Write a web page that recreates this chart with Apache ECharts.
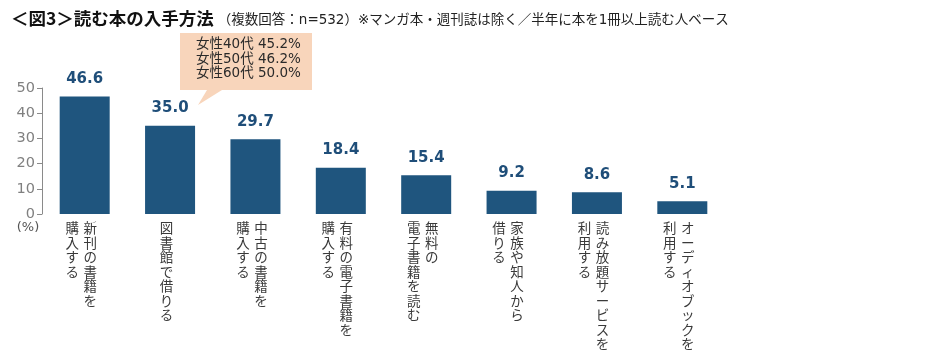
<!DOCTYPE html>
<html><head><meta charset="utf-8">
<script src="https://cdn.jsdelivr.net/npm/echarts@6/dist/echarts.min.js"></script>
<style>html,body{margin:0;padding:0;background:#fff}#c{width:934px;height:360px}</style>
</head><body><div id="c"></div>
<script>
// Categories: right column \n left column (vertical Japanese writing)
const categories = [
  '新刊の書籍を\n購入する',
  '図書館で借りる',
  '中古の書籍を\n購入する',
  '有料の電子書籍を\n購入する',
  '無料の\n電子書籍を読む',
  '家族や知人から\n借りる',
  '読み放題サービスを\n利用する',
  'オーディオブックを\n利用する'
];
const values = [46.6, 35.0, 29.7, 18.4, 15.4, 9.2, 8.6, 5.1];
const yTicks = [0, 10, 20, 30, 40, 50];
const titleMain = '＜図3＞読む本の入手方法';
const titleSub = '（複数回答：n=532）※マンガ本・週刊誌は除く／半年に本を1冊以上読む人ベース';
const calloutLines = ['女性40代 45.2%', '女性50代 46.2%', '女性60代 50.0%'];

function vertical(s) {
  const cols = s.split('\n').map(c => Array.from(c));
  const n = Math.max(...cols.map(c => c.length));
  const lines = [];
  for (let i = 0; i < n; i++) {
    const right = cols[0][i] || '　';
    if (cols.length > 1) {
      const left = cols[1][i] || '　';
      lines.push('{c|' + left + '}{c|' + right + '}{p| }');
    } else {
      lines.push('{c|' + right + '}{p| }');
    }
  }
  return lines.join('\n');
}

const chart = echarts.init(document.getElementById('c'), null, {renderer: 'canvas'});
const option = {
  animation: false,
  backgroundColor: '#fff',
  title: {
    text: '{m|' + titleMain + '}{s|' + titleSub + '}',
    left: 6, top: 5,
    textStyle: {
      rich: {
        m: {fontSize: 17.5, fontWeight: 'bold', color: '#111', fontFamily: '"Noto Sans CJK JP", sans-serif', padding: [0, 4, 0, 0]},
        s: {fontSize: 13.5, fontWeight: 'normal', color: '#222', fontFamily: '"DejaVu Sans", "Noto Sans CJK JP", sans-serif', padding: [3, 0, 0, 0]}
      }
    }
  },
  grid: {left: 42, right: 209, top: 88, bottom: 146, containLabel: false},
  xAxis: {
    type: 'category',
    data: categories,
    axisLine: {show: false},
    axisTick: {show: false},
    axisLabel: {
      interval: 0, margin: 7,
      formatter: v => vertical(v),
      rich: {
        c: {width: 18, align: 'center', fontSize: 13.5, lineHeight: 14.5, color: '#3a3a3a', fontFamily: '"Noto Sans CJK JP", sans-serif'},
        p: {width: 7, fontSize: 13, lineHeight: 14.5}
      }
    }
  },
  yAxis: {
    type: 'value', min: yTicks[0], max: yTicks[yTicks.length - 1], interval: 10,
    name: '(%)', nameLocation: 'start', nameGap: 4,
    nameTextStyle: {color: '#555', fontSize: 13, fontFamily: '"DejaVu Sans", sans-serif', align: 'center', verticalAlign: 'top', padding: [0, 28, 0, 0]},
    axisLine: {show: true, lineStyle: {color: '#8a8a8a', width: 1}},
    axisTick: {show: true, length: 5, lineStyle: {color: '#8a8a8a'}},
    splitLine: {show: false},
    axisLabel: {color: '#808080', fontSize: 14.5, margin: 7, fontFamily: '"DejaVu Sans", sans-serif'}
  },
  series: [{
    type: 'bar',
    data: values,
    barWidth: 50,
    itemStyle: {color: '#1F557E'},
    label: {
      show: true, position: 'top', distance: 10,
      formatter: p => p.value.toFixed(1),
      color: '#1F4E79', fontSize: 15, fontWeight: 'bold', fontFamily: '"DejaVu Sans", sans-serif'
    }
  }],
  graphic: [
    {
      type: 'polygon', z: 10,
      shape: {points: [[180, 33], [312, 33], [312, 90], [222, 90], [198, 105], [207, 90], [180, 90]]},
      style: {fill: '#F8D5BB'}
    },
    {
      type: 'text', z: 11, left: 196, top: 37.5,
      style: {text: calloutLines.join('\n'), fill: '#2a2a2a', fontSize: 13.5, lineHeight: 14.5, fontFamily: '"DejaVu Sans", "Noto Sans CJK JP", sans-serif'}
    }
  ]
};
chart.setOption(option);
</script>
</body></html>
